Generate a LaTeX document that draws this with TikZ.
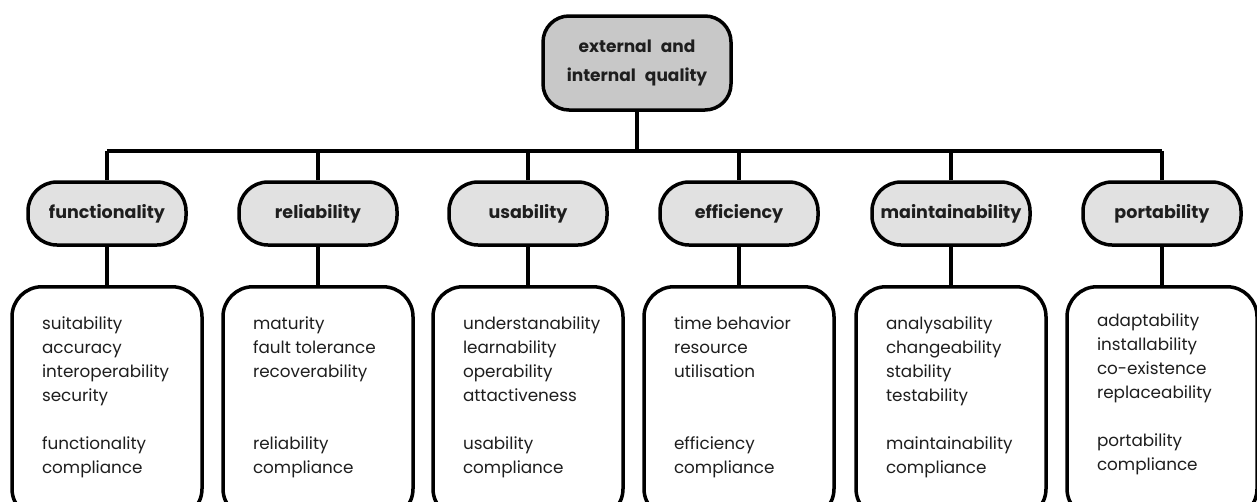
\documentclass[tikz,border=0pt]{standalone}
\usepackage{fontspec}
\setmainfont{Poppins}
\definecolor{rootgray}{HTML}{C8C8C8}
\definecolor{pillgray}{HTML}{E1E1E1}
\definecolor{ink}{HTML}{1E1E1E}
\begin{document}
\begin{tikzpicture}[x=1pt,y=-1pt,
  line width=3.5pt,
  rootbox/.style={draw=black, fill=rootgray, rounded corners=26pt,
    minimum width=188pt, minimum height=94pt, inner sep=0pt, align=center,
    text=ink, font=\fontsize{17}{29}\selectfont\bfseries},
  pill/.style={draw=black, fill=pillgray, rounded corners=29pt,
    minimum width=158pt, minimum height=63pt, inner sep=0pt,
    text=ink, font=\fontsize{17.5}{20}\selectfont\bfseries},
  listbox/.style={draw=black, fill=white, rounded corners=30pt,
    minimum width=190pt, minimum height=232pt, inner sep=0pt, anchor=north},
  items/.style={anchor=north west, inner sep=0pt, align=left,
    text=ink, font=\fontsize{16.8}{24}\selectfont},
]
\clip (0,0) rectangle (1257,501);
\fill[white] (0,0) rectangle (1257,501);

% root of the quality tree
\node[rootbox] (root) at (637,63) {external\hspace{9pt}and\\internal\hspace{9pt}quality};

% horizontal bus level
\coordinate (bus) at (0,151);

% characteristics
\foreach \n/\x/\t in {f/107/functionality, r/318/reliability, u/528/usability,
                      e/739/efficiency, m/951/maintainability, p/1162/portability}{
  \node[pill] (\n) at (\x,213.5) {\t};
  \node[listbox] (\n-box) at (\x,285) {};
  \draw (\n.north) -- (\n.north |- bus);
  \draw (\n.south) -- (\n-box.north);
}

\draw (root.south) -- (root.south |- bus);
\draw (f.north |- bus) -- (p.north |- bus);

% sub-characteristics
\node[items] (f-items) at ([xshift=30pt,yshift=-30pt]f-box.north west)
  {suitability\\accuracy\\interoperability\\security\\[24pt]functionality\\compliance};
\node[items] (r-items) at ([xshift=30pt,yshift=-30pt]r-box.north west)
  {maturity\\fault tolerance\\recoverability\\[48pt]reliability\\compliance};
\node[items] (u-items) at ([xshift=30pt,yshift=-30pt]u-box.north west)
  {understanability\\learnability\\operability\\attactiveness\\[24pt]usability\\compliance};
\node[items] (e-items) at ([xshift=30pt,yshift=-30pt]e-box.north west)
  {time behavior\\resource\\utilisation\\[48pt]efficiency\\compliance};
\node[items] (m-items) at ([xshift=30pt,yshift=-30pt]m-box.north west)
  {analysability\\changeability\\stability\\testability\\[24pt]maintainability\\compliance};
\node[items] (p-items) at ([xshift=30pt,yshift=-27pt]p-box.north west)
  {adaptability\\installability\\co-existence\\replaceability\\[24pt]portability\\compliance};
\end{tikzpicture}
\end{document}
